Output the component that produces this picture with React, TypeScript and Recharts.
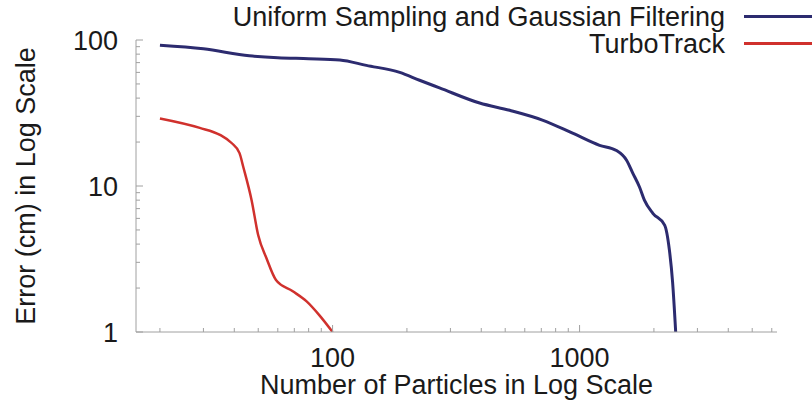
import { LineChart, Line, XAxis, YAxis, Legend } from 'recharts'

// [particles, error cm]
const uniformParticles = [20, 30, 46, 60, 80, 107, 137, 187, 225, 271, 394, 521, 707, 937, 1205, 1410, 1550, 1640, 1750, 1830, 1980, 2210, 2310, 2380, 2450]
const uniformError = [92, 87, 78, 75.5, 74.5, 73, 67, 60, 53, 47, 37, 33, 28.3, 23, 19, 17.5, 15, 12.3, 9.8, 8, 6.5, 5.4, 3.65, 2.2, 1]

const turboParticles = [20, 29, 35, 39, 42, 43.5, 47, 50, 54, 59, 69, 78.5, 88.5, 100]
const turboError = [29, 25, 22.4, 19.7, 16.8, 13.5, 8, 4.6, 3.2, 2.27, 1.9, 1.62, 1.3, 1]

const xMajor = [100, 1000]
const xMinor = [20, 30, 40, 50, 60, 70, 80, 90, 200, 300, 400, 500, 600, 700, 800, 900, 2000, 3000, 4000, 5000, 6000]
const yMajor = [1, 10, 100]
const yMinor = [2, 3, 4, 5, 6, 7, 8, 9, 20, 30, 40, 50, 60, 70, 80, 90]

const seriesNames = ['Uniform Sampling and Gaussian Filtering', 'TurboTrack']

const BLUE = '#2c2b6f'
const RED = '#d0312d'
const AXIS = '#a0a0a0'
const TEXT = '#1a1a1a'
const FONT = '"Liberation Sans", Arial, Helvetica, sans-serif'

const uniformData = uniformParticles.map((n, i) => ({ n, err: uniformError[i] }))
const turboData = turboParticles.map((n, i) => ({ n, err: turboError[i] }))

function XTick(props: any) {
  const { x, y, payload } = props
  const major = xMajor.includes(payload.value)
  return (
    <g>
      <line x1={x} y1={y} x2={x} y2={y - (major ? 7 : 4)} stroke={AXIS} strokeWidth={1} />
      {major && (
        <text x={x} y={y + 35} textAnchor="middle" fontSize={27} fill={TEXT} fontFamily={FONT}>
          {payload.value}
        </text>
      )}
    </g>
  )
}

function YTick(props: any) {
  const { x, y, payload } = props
  const major = yMajor.includes(payload.value)
  return (
    <g>
      <line x1={x} y1={y} x2={x + (major ? 7 : 4)} y2={y} stroke={AXIS} strokeWidth={1} />
      {major && (
        <text x={x - 18} y={y + 10} textAnchor="end" fontSize={27} fill={TEXT} fontFamily={FONT}>
          {payload.value}
        </text>
      )}
    </g>
  )
}

function LegendBox() {
  const colors = [BLUE, RED]
  return (
    <div style={{ width: 600, fontFamily: FONT, color: TEXT }}>
      {seriesNames.map((name, i) => (
        <div
          key={name}
          style={{ display: 'flex', justifyContent: 'flex-end', alignItems: 'center', height: 27 }}
        >
          <span style={{ fontSize: 27, lineHeight: '27px', whiteSpace: 'nowrap' }}>{name}</span>
          <span
            style={{
              display: 'inline-block',
              width: 68,
              height: 3,
              marginLeft: 19,
              marginTop: -3,
              background: colors[i],
            }}
          />
        </div>
      ))}
    </div>
  )
}

export default function App() {
  return (
    <div style={{ position: 'absolute', left: 0, top: 0, width: 812, height: 400, background: '#fff' }}>
      <LineChart width={812} height={400} margin={{ top: 40, right: 35, bottom: 0, left: 0 }}>
        <XAxis
          dataKey="n"
          type="number"
          scale="log"
          domain={[16, 6300]}
          allowDataOverflow
          ticks={[...xMinor, ...xMajor].sort((a, b) => a - b)}
          tick={<XTick />}
          tickSize={0}
          tickMargin={0}
          interval={0}
          height={68}
          stroke={AXIS}
          label={{
            value: 'Number of Particles in Log Scale',
            position: 'insideBottom',
            offset: 6,
            fontSize: 27,
            fill: TEXT,
            fontFamily: FONT,
          }}
        />
        <YAxis
          dataKey="err"
          type="number"
          scale="log"
          domain={[1, 100]}
          allowDataOverflow
          ticks={[...yMinor, ...yMajor].sort((a, b) => a - b)}
          tick={<YTick />}
          tickSize={0}
          tickMargin={0}
          interval={0}
          width={136}
          stroke={AXIS}
          label={{
            value: 'Error (cm) in Log Scale',
            angle: -90,
            position: 'insideLeft',
            offset: 25,
            fontSize: 27,
            fill: TEXT,
            fontFamily: FONT,
            style: { textAnchor: 'middle' },
          }}
        />
        <Legend
          layout="horizontal"
          align="center"
          verticalAlign="middle"
          wrapperStyle={{ top: 4, right: 0, left: 'auto', width: 600 }}
          content={<LegendBox />}
        />
        <Line
          data={uniformData}
          dataKey="err"
          name={seriesNames[0]}
          type="monotone"
          stroke={BLUE}
          strokeWidth={3}
          dot={false}
          isAnimationActive={false}
        />
        <Line
          data={turboData}
          dataKey="err"
          name={seriesNames[1]}
          type="monotone"
          stroke={RED}
          strokeWidth={2.5}
          dot={false}
          isAnimationActive={false}
        />
      </LineChart>
    </div>
  )
}
